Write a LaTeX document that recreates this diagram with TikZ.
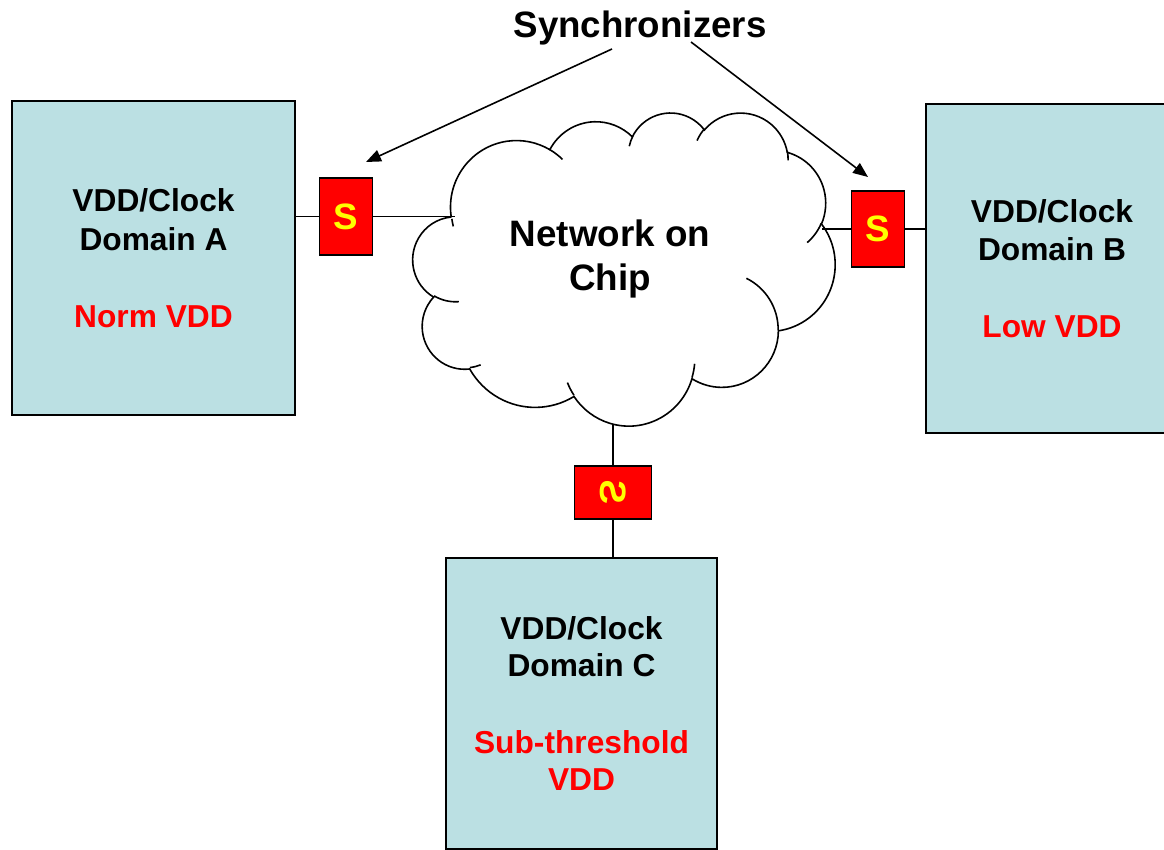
\documentclass[tikz,border=0pt]{standalone}
\usepackage{fontspec}
\setmainfont{Liberation Sans}
\usepackage{graphicx}
\usetikzlibrary{arrows.meta}
\definecolor{boxfill}{RGB}{187,224,227}
\definecolor{sred}{RGB}{255,0,0}
\definecolor{syellow}{RGB}{255,255,0}
% elliptic arc with "visual" start angle and sweep (DrawingML arcTo)
\newcommand\cloudcalc[4]{%
  \pgfmathsetmacro\cta{atan2(#1*sin(#3), #2*cos(#3))}%
  \pgfmathsetmacro\ctb{atan2(#1*sin(#3+#4), #2*cos(#3+#4))}%
  \pgfmathsetmacro\ctd{\ctb-\cta}%
  \pgfmathsetmacro\ctd{\ctd-360*round((\ctd-#4)/360)}%
  \pgfmathsetmacro\cte{\cta+\ctd}%
  \xdef\cloudA{\cta}\xdef\cloudB{\cte}%
}
\newcommand\CA[4]{\pgfextra{\cloudcalc{#1}{#2}{#3}{#4}} arc[start angle=\cloudA, end angle=\cloudB, x radius=#1, y radius=#2]}
\tikzset{
  dombox/.style={draw=black, line width=1.6pt, fill=boxfill, align=center, inner sep=0pt,
    font=\bfseries\fontsize{31.7}{38.5}\selectfont},
  syncbox/.style={draw=black, line width=1.6pt, fill=sred, text=syellow, inner sep=0pt,
    font=\bfseries\fontsize{36.7}{44}\selectfont},
  conn/.style={draw=black, line width=1.6pt},
  arrowline/.style={draw=black, line width=1.6pt, -{Triangle[length=15pt,width=12pt]}},
  cloudline/.style={draw=black, line width=1.6pt},
  bigtext/.style={align=center, inner sep=0pt, font=\bfseries\fontsize{36.8}{44}\selectfont},
}
\begin{document}
\begin{tikzpicture}[x=1pt,y=-1pt]
\useasboundingbox (0,0) rectangle (1164,850);
\clip (0,0) rectangle (1164,850);
\fill[white] (0,0) rectangle (1164,850);

% cloud (Office cloud preset, 43200 units scaled /100)
\begin{scope}[shift={(413,112)}, x=0.976852pt, y=-0.724537pt]
\draw[cloudline, fill=white] (39.00,143.70)
  \CA{67.53}{91.90}{-190.4875}{123.7805}
  \CA{53.33}{72.67}{-144.1024}{89.9452}
  \CA{43.65}{59.45}{-145.8079}{99.7230}
  \CA{48.57}{65.95}{-130.9861}{117.2417}
  \CA{53.33}{72.73}{-78.7089}{109.0269}
  \CA{67.75}{92.20}{-46.2673}{130.2690}
  \CA{57.85}{78.67}{0.6250}{114.0333}
  \CA{67.52}{92.15}{22.4516}{115.1726}
  \CA{77.20}{105.43}{66.2426}{75.7110}
  \CA{43.60}{59.18}{-274.9421}{146.7356}
  \CA{43.45}{59.45}{-246.8285}{152.5189}
  -- cycle;
\draw[cloudline]
  (46.93,261.77) \CA{43.45}{59.45}{86.742}{26.4295}
  (69.28,348.99) \CA{43.60}{59.18}{73.6105}{11.4475}
  (164.78,390.90) \CA{67.52}{92.15}{137.6242}{14.0811}
  (288.27,347.51) \CA{67.52}{92.15}{6.4533}{15.9984}
  (341.29,229.54) \CA{57.85}{78.67}{-70.2924}{70.9174}
  (417.98,153.54) \CA{53.33}{72.73}{30.3180}{27.7515}
  (383.24,54.26) \CA{48.57}{65.95}{-13.7443}{14.8589}
  (290.78,39.52) \CA{48.57}{65.95}{-149.1815}{18.1954}
  (221.41,47.20) \CA{43.65}{59.45}{-163.4943}{17.6864}
  (140.00,51.92) \CA{67.53}{91.90}{-66.7070}{12.3194}
  (41.27,157.89) \CA{67.53}{91.90}{160.7810}{8.7290};
\end{scope}

\node[bigtext] (noc) at (610,259) {Network on\\Chip};

% connection points on the cloud
\coordinate (cA) at (455,216.5);
\coordinate (cB) at (822,229);
\coordinate (cC) at (613,425);

% synchronizers
\node[syncbox, minimum width=53, minimum height=77] (sA) at (346,216.5) {S};
\node[syncbox, minimum width=53, minimum height=76] (sB) at (878,229) {S};
\node[syncbox, minimum width=77, minimum height=53] (sC) at (613,492.5) {\rotatebox{-90}{\reflectbox{S}}};

% domains
\node[dombox, minimum width=283, minimum height=314] (boxA) at (153.5,258)
  {VDD/Clock\\Domain A\\[38.5pt]\textcolor{sred}{Norm VDD}};
\node[dombox, minimum width=252, minimum height=329] (boxB) at (1052,268.5)
  {VDD/Clock\\Domain B\\[38.5pt]\textcolor{sred}{Low VDD}};
\node[dombox, minimum width=271, minimum height=291,
      font=\bfseries\fontsize{31.7}{37.5}\selectfont] (boxC) at (581.5,703.5)
  {VDD/Clock\\Domain C\\[39pt]\textcolor{sred}{Sub-threshold}\\\textcolor{sred}{VDD}};

% connectors
\draw[conn] (boxA.east |- sA) -- (sA.west);
\draw[conn] (sA.east) -- (cA);
\draw[conn] (cB) -- (sB.west);
\draw[conn] (sB.east) -- (boxB.west |- sB);
\draw[conn] (cC) -- (sC.north);
\draw[conn] (sC.south) -- (boxC.north -| sC);

% title and arrows
\node[bigtext, font=\bfseries\fontsize{36.7}{44}\selectfont, anchor=base] (syn) at (640,37.5) {Synchronizers};
\coordinate (t1) at (612,49);
\coordinate (h1) at (366,162);
\coordinate (t2) at (691,42);
\coordinate (h2) at (868,177);
\draw[arrowline] (t1) -- (h1);
\draw[arrowline] (t2) -- (h2);
\end{tikzpicture}
\end{document}
